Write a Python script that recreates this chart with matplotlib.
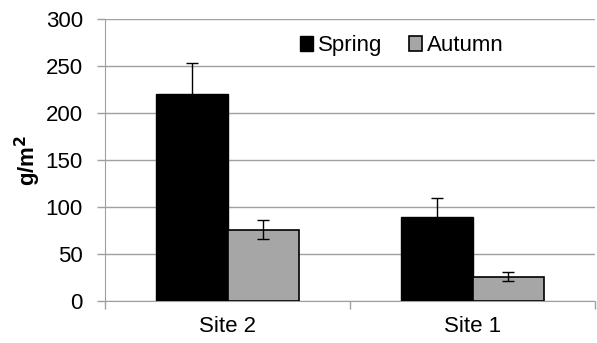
import matplotlib
matplotlib.use("Agg")
import matplotlib.pyplot as plt
import numpy as np

sites = ["Site 2", "Site 1"]
spring = [220, 89]
spring_err = [33, 21]
autumn = [76, 26]
autumn_err = [10, 5]
yticks = [0, 50, 100, 150, 200, 250, 300]

plt.rcParams['font.family'] = ['Liberation Sans', 'DejaVu Sans']
FS = 16

fig = plt.figure(figsize=(5.97, 3.43), dpi=100)
ax = fig.add_axes([105 / 597, 42 / 343, 490 / 597, 282 / 343])

x = np.arange(len(sites))
w = 0.29
grey = "#A6A6A6"
ax.bar(x - w / 2, spring, w, color="black", edgecolor="black", linewidth=1.0,
       label="Spring", zorder=3)
ax.bar(x + w / 2, autumn, w, color=grey, edgecolor="black", linewidth=1.2,
       label="Autumn", zorder=3)
ax.errorbar(x - w / 2, spring, yerr=spring_err, fmt="none", ecolor="black",
            elinewidth=1.0, capsize=4.3, capthick=1.0, zorder=4)
ax.errorbar(x + w / 2, autumn, yerr=autumn_err, fmt="none", ecolor="black",
            elinewidth=1.0, capsize=4.3, capthick=1.0, zorder=4)

ax.set_xlim(-0.5, len(sites) - 0.5)
ax.set_ylim(0, 300)
ax.set_yticks(yticks)
ax.set_yticklabels([str(v) for v in yticks], fontsize=FS)
ax.yaxis.grid(True, color="#A0A0A0", linewidth=1.0, zorder=0)
ax.set_axisbelow(True)

ax.set_xticks(x)
ax.set_xticklabels(sites, fontsize=FS)
ax.tick_params(axis="x", length=0, pad=11)
ax.set_xticks(np.arange(len(sites) + 1) - 0.5, minor=True)
ax.tick_params(axis="x", which="minor", length=6, color="#A0A0A0", width=1.0)
ax.tick_params(axis="y", length=6, color="#A0A0A0", width=1.0, pad=10)

for side in ["top", "right"]:
    ax.spines[side].set_visible(False)
ax.spines["left"].set_color("#A0A0A0")
ax.spines["bottom"].set_color("#A0A0A0")

ax.set_ylabel("g/m$^\\mathbf{2}$", fontsize=FS, fontweight="bold", labelpad=2)

ax.legend(loc="center left", bbox_to_anchor=(0.38, 0.905), ncol=2, frameon=False,
          fontsize=FS, handlelength=0.6, handleheight=0.6, handletextpad=0.2,
          columnspacing=1.2, borderaxespad=0)

fig.savefig("out.png", dpi=100)
